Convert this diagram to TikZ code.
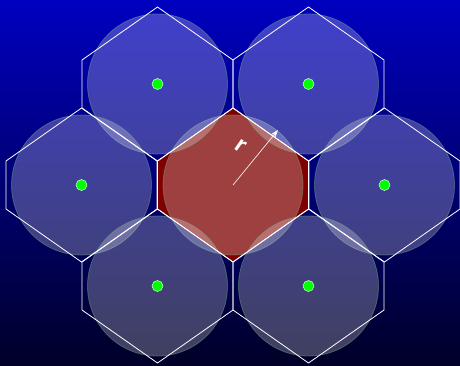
\documentclass[tikz,border=0pt]{standalone}
\usepackage{fontspec}
\setsansfont{Liberation Sans}
\usetikzlibrary{arrows.meta}
\definecolor{bgtop}{RGB}{0,0,192}
\definecolor{bgbot}{RGB}{0,0,40}
\definecolor{cellred}{RGB}{128,0,0}
\definecolor{dotgreen}{RGB}{0,255,0}
\definecolor{rimgreen}{RGB}{110,170,130}
\begin{document}
\begin{tikzpicture}[x=1pt,y=-1pt,
  hexcell/.pic={\path[pic actions] (0,-77) -- (75.5,-24) -- (75.5,24) -- (0,77) -- (-75.5,24) -- (-75.5,-24) -- cycle;},
  hexline/.style={draw=white, line width=0.8pt, line join=miter},
  cover/.style={fill=white, fill opacity=0.25, draw=rimgreen, draw opacity=0.45, line width=0.8pt},
  station/.style={circle, fill=dotgreen, draw=white!85!green, line width=0.5pt, minimum size=11pt, inner sep=0pt},
  radius arrow/.style={white, line width=0.6pt, -{Stealth[length=8pt,width=5.5pt]}},
  rlabel/.style={white, rotate=-35, inner sep=0pt, font=\fontsize{23}{23}\selectfont\sffamily\bfseries}
  ]
\shade[top color=bgtop, bottom color=bgbot] (0,0) rectangle (460,365);
\useasboundingbox (0,0) rectangle (460,365);
\coordinate (c0) at (233,185);
\coordinate (c1) at (157.5,84);
\coordinate (c2) at (308.5,84);
\coordinate (c3) at (81.5,185);
\coordinate (c4) at (384.5,185);
\coordinate (c5) at (157.5,286);
\coordinate (c6) at (308.5,286);
\pic[fill=cellred] at (c0) {hexcell};
\foreach \i in {0,...,6} \path[cover] (c\i) circle[radius=70pt];
\foreach \i in {0,...,6} \pic[hexline] at (c\i) {hexcell};
\foreach \i in {1,...,6} \node[station] (s\i) at (c\i) {};
\coordinate (tip) at (278,130);
\draw[radius arrow] (c0) -- (tip);
\node[rlabel] (rlab) at (241,146) {r};
\end{tikzpicture}
\end{document}
